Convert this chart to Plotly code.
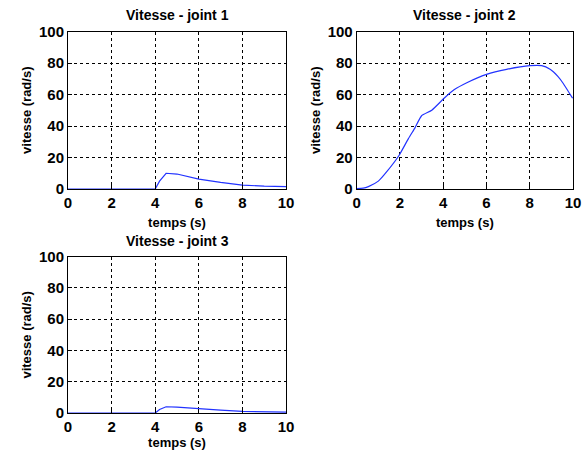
import plotly.graph_objects as go

# Data
t1 = [0, 1, 2, 3, 4.0, 4.2, 4.5, 5.0, 6.0, 7.0, 8.0, 9.0, 10.0]
v1 = [0, 0, 0, 0, 0.0, 5.0, 10.0, 9.5, 6.3, 4.2, 2.5, 1.8, 1.5]

t2 = [0, 0.3, 0.54, 1.0, 1.39, 1.97, 2.39, 2.7, 3.0, 3.47, 4.04, 4.5, 5.09, 6.0, 6.93, 8.01, 8.55, 8.94, 9.3, 9.55, 9.98]
v2 = [0.3, 0.5, 1.5, 5.0, 11.0, 21.6, 32.0, 39.0, 46.5, 50.0, 57.6, 63.0, 67.5, 72.8, 76.0, 78.3, 78.3, 76.0, 71.5, 67.0, 57.6]

t3 = [0, 1, 2, 3, 4.0, 4.2, 4.5, 5.0, 6.0, 7.0, 8.0, 9.0, 10.0]
v3 = [0, 0, 0, 0, 0.0, 2.2, 4.0, 3.8, 2.6, 1.8, 1.1, 0.7, 0.5]

titles = ["Vitesse - joint 1", "Vitesse - joint 2", "Vitesse - joint 3"]
xticks = [0, 2, 4, 6, 8, 10]
yticks = [0, 20, 40, 60, 80, 100]

W, H = 584, 457
domains = [
    ([68 / W, 286 / W], [1 - 189 / H, 1 - 31.5 / H]),
    ([356.7 / W, 573 / W], [1 - 189 / H, 1 - 31.5 / H]),
    ([68 / W, 286 / W], [1 - 413 / H, 1 - 256.7 / H]),
]
shapes = ["linear", "spline", "linear"]
xstandoffs = [7, 7, 2]

FONT = "Liberation Sans"
fig = go.Figure()
series = [(t1, v1), (t2, v2), (t3, v3)]
blue = "#2233ff"
for i, ((t, v), (dx, dy)) in enumerate(zip(series, domains)):
    n = "" if i == 0 else str(i + 1)
    fig.add_trace(go.Scatter(x=t, y=v, mode="lines",
                             line=dict(color=blue, width=1.2, shape=shapes[i], smoothing=0.5),
                             xaxis="x" + n, yaxis="y" + n, showlegend=False))
    axcommon = dict(showline=True, linecolor="black", linewidth=1, mirror=True,
                    showgrid=True, gridcolor="black", griddash="3px,3px", gridwidth=1,
                    ticks="inside", ticklen=4, tickcolor="black", zeroline=False,
                    automargin=False,
                    tickfont=dict(family=FONT, size=15, color="black", weight="bold"))
    fig.layout["xaxis" + n] = dict(domain=dx, anchor="y" + n, range=[0, 10], tickvals=xticks,
                                   title=dict(text="temps (s)", standoff=xstandoffs[i],
                                              font=dict(family=FONT, size=13, color="black", weight="bold")),
                                   **axcommon)
    fig.layout["yaxis" + n] = dict(domain=dy, anchor="x" + n, range=[0, 100], tickvals=yticks,
                                   title=dict(text="vitesse (rad/s)", standoff=4,
                                              font=dict(family=FONT, size=13, color="black", weight="bold")),
                                   **axcommon)
    fig.add_annotation(text=titles[i], xref="paper", yref="paper",
                       x=(dx[0] + dx[1]) / 2, y=dy[1], yshift=6, xanchor="center", yanchor="bottom",
                       showarrow=False,
                       font=dict(family=FONT, size=14, color="black", weight="bold"))

fig.update_layout(width=W, height=H, margin=dict(l=0, r=0, t=0, b=0, autoexpand=False),
                  paper_bgcolor="white", plot_bgcolor="white")
fig.write_html("out.html")
